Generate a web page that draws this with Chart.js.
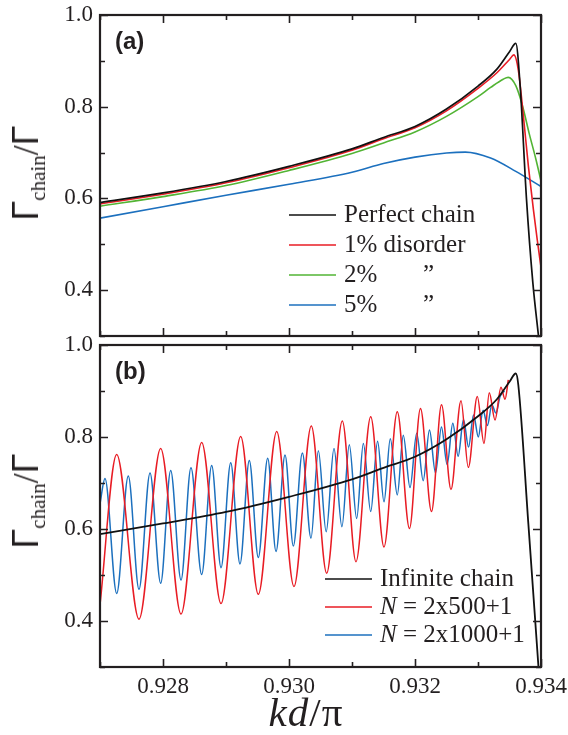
<!DOCTYPE html>
<html>
<head>
<meta charset="utf-8">
<script src="https://cdn.jsdelivr.net/npm/chart.js@4.4.1/dist/chart.umd.min.js"></script>
<style>
  body { margin: 0; background: #fff; }
  #wrap { position: relative; width: 568px; height: 735px; overflow: hidden; color: #231f20; }
  canvas { position: absolute; left: 0; }
  .ytitle { position: absolute; white-space: nowrap; transform: translate(-50%, -50%) rotate(-90deg);
            font-family: 'Liberation Sans', sans-serif; font-size: 36px; line-height: 1; }
  .ytitle sub { font-family: 'Liberation Serif', serif; font-size: 21px; line-height: 0; vertical-align: -7px; }
  .ytitle .sl { font-family: 'Liberation Serif', serif; }
  .xtitle { position: absolute; left: 306px; top: 692px; white-space: nowrap; transform: translateX(-50%);
            font-family: 'Liberation Serif', serif; font-size: 41px; line-height: 1; letter-spacing: 1px; }
</style>
</head>
<body>
<div id="wrap">
  <canvas id="chartA" width="568" height="340" style="top:0"></canvas>
  <canvas id="chartB" width="568" height="405" style="top:330px"></canvas>
  <div class="ytitle" style="left:26px; top:173px">Γ<sub>chain</sub><span class="sl">/</span>Γ</div>
  <div class="ytitle" style="left:26px; top:501px">Γ<sub>chain</sub><span class="sl">/</span>Γ</div>
  <div class="xtitle"><i>kd</i>/π</div>
</div>
<script>
// axis ticks (kd/pi and Gamma_chain/Gamma)
const xTicks = [0.927, 0.928, 0.929, 0.930, 0.931, 0.932, 0.933, 0.934];
const yTicks = [0.3, 0.4, 0.5, 0.6, 0.7, 0.8, 0.9, 1.0];

// panel (a): disorder
const perfectX = [0.927, 0.928, 0.929, 0.930, 0.931, 0.9315, 0.932, 0.9325, 0.933, 0.9333, 0.9335, 0.9336, 0.93367, 0.93377, 0.93387, 0.93396];
const perfectY = [0.591, 0.612, 0.637, 0.670, 0.708, 0.733, 0.757, 0.795, 0.845, 0.882, 0.920, 0.938, 0.843, 0.598, 0.417, 0.300];

const dis1X = [0.927, 0.928, 0.929, 0.930, 0.931, 0.9315, 0.932, 0.9325, 0.933, 0.9333, 0.9335, 0.93357, 0.93364, 0.93372, 0.9338, 0.93388, 0.93394, 0.934];
const dis1Y = [0.588, 0.609, 0.634, 0.667, 0.705, 0.730, 0.754, 0.791, 0.840, 0.874, 0.903, 0.913, 0.880, 0.780, 0.670, 0.575, 0.510, 0.450];

const dis2X = [0.927, 0.928, 0.929, 0.930, 0.931, 0.9315, 0.932, 0.9325, 0.933, 0.9332, 0.9334, 0.93348, 0.9336, 0.93371, 0.93381, 0.93392, 0.934];
const dis2Y = [0.583, 0.604, 0.628, 0.661, 0.698, 0.721, 0.745, 0.779, 0.822, 0.842, 0.860, 0.864, 0.846, 0.800, 0.743, 0.685, 0.638];

const dis5X = [0.927, 0.928, 0.929, 0.930, 0.931, 0.9315, 0.932, 0.9325, 0.9328, 0.9332, 0.9336, 0.934];
const dis5Y = [0.557, 0.582, 0.607, 0.631, 0.657, 0.676, 0.690, 0.699, 0.701, 0.688, 0.659, 0.626];

// panel (b): finite chains
const infX = [0.927, 0.928, 0.929, 0.930, 0.931, 0.9315, 0.932, 0.9325, 0.933, 0.9333, 0.9335, 0.9336, 0.93364, 0.9338, 0.93396];
const infY = [0.589, 0.612, 0.637, 0.670, 0.708, 0.733, 0.757, 0.795, 0.845, 0.882, 0.920, 0.938, 0.913, 0.610, 0.300];

const n500X = [0.927, 0.927265, 0.927619, 0.927963, 0.928286, 0.928614, 0.928921, 0.929233, 0.929513, 0.929805,
               0.930079, 0.930354, 0.930598, 0.930846, 0.931063, 0.931297, 0.931508, 0.931719, 0.931912, 0.932087,
               0.932262, 0.932421, 0.932571, 0.932730, 0.932846, 0.932989, 0.933095, 0.933179, 0.933270, 0.933365,
               0.933429, 0.933481];
const n500Y = [0.435, 0.762, 0.404, 0.775, 0.415, 0.788, 0.438, 0.801, 0.458, 0.812,
               0.475, 0.824, 0.504, 0.835, 0.529, 0.844, 0.561, 0.855, 0.601, 0.862,
               0.638, 0.870, 0.686, 0.879, 0.734, 0.888, 0.786, 0.896, 0.837, 0.908,
               0.882, 0.924];

const n1000X = [0.927, 0.927079, 0.927265, 0.927449, 0.927619, 0.927794, 0.927963, 0.928122, 0.928286, 0.928444,
                0.928614, 0.928773, 0.928921, 0.929075, 0.929222, 0.929370, 0.929513, 0.929662, 0.929794, 0.929937,
                0.930069, 0.930212, 0.930349, 0.930466, 0.930590, 0.930714, 0.930840, 0.930957, 0.931074, 0.931180,
                0.931297, 0.931406, 0.931508, 0.931608, 0.931719, 0.931814, 0.931921, 0.932027, 0.932130, 0.932230,
                0.932325, 0.932420, 0.932510, 0.932600, 0.932685, 0.932770, 0.932850, 0.932930, 0.933005, 0.933080,
                0.933150, 0.933220, 0.933285, 0.933350, 0.933420];
const n1000Y = [0.655, 0.710, 0.460, 0.715, 0.469, 0.722, 0.482, 0.727, 0.489, 0.733,
                0.501, 0.738, 0.516, 0.744, 0.524, 0.749, 0.538, 0.754, 0.551, 0.761,
                0.563, 0.765, 0.580, 0.770, 0.594, 0.775, 0.605, 0.783, 0.623, 0.786,
                0.638, 0.791, 0.659, 0.796, 0.674, 0.804, 0.690, 0.808, 0.705, 0.815,
                0.722, 0.822, 0.740, 0.830, 0.758, 0.838, 0.778, 0.848, 0.800, 0.858,
                0.825, 0.870, 0.852, 0.888, 0.900];

const BLACK = '#111111', RED = 'rgb(232,28,36)', GREEN = 'rgb(82,180,52)', BLUE = 'rgb(28,112,190)';

function pts(xs, ys) {
  return xs.map((x, i) => ({ x: x, y: ys[i] }));
}

function line(label, xs, ys, color, width) {
  return {
    label: label,
    data: pts(xs, ys),
    borderColor: color,
    borderWidth: width,
    pointRadius: 0,
    cubicInterpolationMode: 'monotone',
    fill: false
  };
}

// box around the plot with inward ticks on all four sides
const framePlugin = {
  id: 'frame',
  afterDatasetsDraw(chart) {
    const ctx = chart.ctx, a = chart.chartArea;
    const xs = chart.scales.x, ys = chart.scales.y;
    ctx.save();
    ctx.strokeStyle = '#231f20';
    ctx.lineWidth = 1.6;
    xTicks.forEach(v => {
      const px = Math.round(xs.getPixelForValue(v)) + 0.5;
      const len = Math.round(v * 1000) % 2 === 0 ? 8 : 5;
      ctx.beginPath();
      ctx.moveTo(px, a.bottom); ctx.lineTo(px, a.bottom - len);
      ctx.moveTo(px, a.top); ctx.lineTo(px, a.top + len);
      ctx.stroke();
    });
    yTicks.forEach(v => {
      const py = Math.round(ys.getPixelForValue(v)) + 0.5;
      const len = Math.round(v * 10) % 2 === 0 ? 8 : 5;
      ctx.beginPath();
      ctx.moveTo(a.left, py); ctx.lineTo(a.left + len, py);
      ctx.moveTo(a.right, py); ctx.lineTo(a.right - len, py);
      ctx.stroke();
    });
    ctx.lineWidth = 2.2;
    ctx.strokeRect(a.left, a.top, a.right - a.left, a.bottom - a.top);
    ctx.restore();
  }
};

// panel tag and legend drawn inside the plot area
const keyPlugin = {
  id: 'key',
  afterDraw(chart, args, opts) {
    const ctx = chart.ctx, a = chart.chartArea;
    ctx.save();
    ctx.fillStyle = '#231f20';
    ctx.font = 'bold 24px "Liberation Sans", Arial, sans-serif';
    ctx.textBaseline = 'middle';
    ctx.fillText(opts.tag, a.left + 15, a.top + 27);

    chart.data.datasets.forEach((ds, i) => {
      const y = opts.y + i * opts.dy;
      ctx.strokeStyle = ds.borderColor;
      ctx.lineWidth = 1.6;
      ctx.beginPath();
      ctx.moveTo(opts.x, y); ctx.lineTo(opts.x + 47, y);
      ctx.stroke();
      ctx.fillStyle = '#231f20';
      let tx = opts.x + 55;
      let text = ds.label;
      if (text.startsWith('N ')) {
        ctx.font = 'italic 25px "Liberation Serif", serif';
        ctx.fillText('N', tx, y);
        tx += ctx.measureText('N').width;
        text = text.slice(1);
      }
      ctx.font = '25px "Liberation Serif", serif';
      const parts = text.split('\t');
      ctx.fillText(parts[0], tx, y);
      if (parts[1]) ctx.fillText(parts[1], tx + 79, y);
    });
    ctx.restore();
  }
};

function options(showX, padding, key) {
  return {
    responsive: false,
    animation: false,
    layout: { padding: padding },
    plugins: { legend: { display: false }, tooltip: { enabled: false }, key: key },
    scales: {
      x: {
        type: 'linear',
        display: showX,
        min: 0.927,
        max: 0.934,
        afterBuildTicks: s => { s.ticks = xTicks.map(v => ({ value: v })); },
        afterFit: s => { s.height = showX ? 68 : 0; s.paddingLeft = 0; s.paddingRight = 0; },
        grid: { display: false, drawTicks: false },
        border: { display: false },
        ticks: {
          autoSkip: false,
          maxRotation: 0,
          padding: 6,
          color: '#231f20',
          font: { family: 'Liberation Serif', size: 23 },
          callback: v => Math.round(v * 1000) % 2 === 0 ? v.toFixed(3) : ''
        }
      },
      y: {
        min: 0.3,
        max: 1.0,
        afterBuildTicks: s => { s.ticks = yTicks.map(v => ({ value: v })); },
        afterFit: s => { s.width = 100; s.paddingTop = 0; s.paddingBottom = 0; },
        grid: { display: false, drawTicks: false },
        border: { display: false },
        ticks: {
          padding: 7,
          color: '#231f20',
          font: { family: 'Liberation Serif', size: 23 },
          callback: v => Math.round(v * 10) % 2 === 0 ? v.toFixed(1) : ''
        }
      }
    }
  };
}

new Chart('chartA', {
  type: 'line',
  data: {
    datasets: [
      line('Perfect chain', perfectX, perfectY, BLACK, 1.7),
      line('1% disorder', dis1X, dis1Y, RED, 1.6),
      line('2%\t\u201D', dis2X, dis2Y, GREEN, 1.6),
      line('5%\t\u201D', dis5X, dis5Y, BLUE, 1.6)
    ]
  },
  options: options(false, { left: 0, right: 27, top: 15, bottom: 4 }, { tag: '(a)', x: 289, y: 215, dy: 30 }),
  plugins: [framePlugin, keyPlugin]
});

new Chart('chartB', {
  type: 'line',
  data: {
    datasets: [
      line('Infinite chain', infX, infY, BLACK, 1.8),
      line('N = 2x500+1', n500X, n500Y, RED, 1.5),
      line('N = 2x1000+1', n1000X, n1000Y, BLUE, 1.5)
    ]
  },
  options: options(true, { left: 0, right: 27, top: 15, bottom: 0 }, { tag: '(b)', x: 325, y: 249, dy: 28 }),
  plugins: [framePlugin, keyPlugin]
});
</script>
</body>
</html>
